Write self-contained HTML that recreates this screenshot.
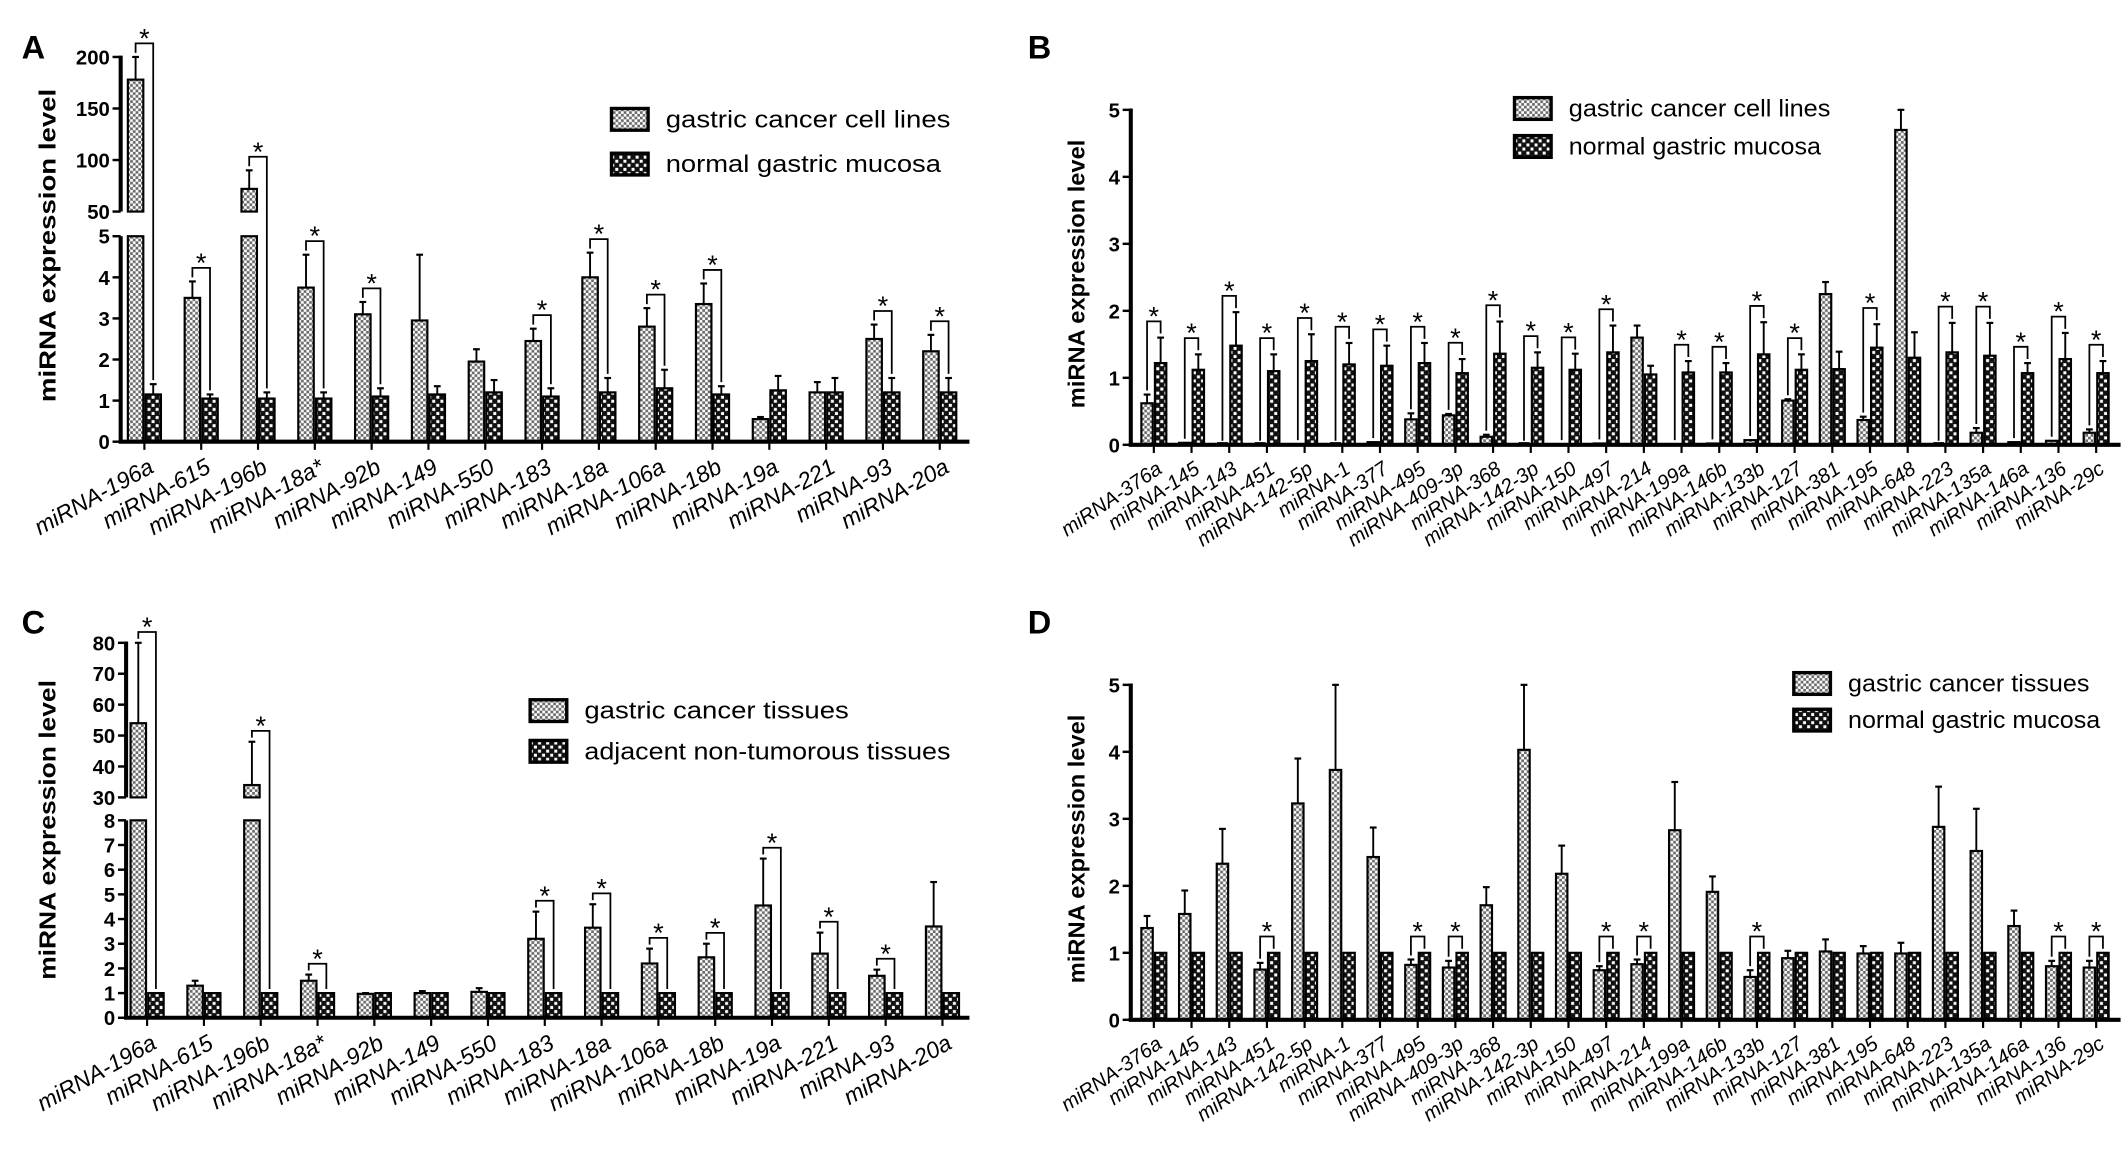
<!DOCTYPE html>
<html><head><meta charset="utf-8"><style>
html,body{margin:0;padding:0;background:#fff;}
svg{display:block;}
text{font-family:"Liberation Sans",Arial,sans-serif;}
</style></head><body>
<svg id="fig" width="2126" height="1150" viewBox="0 0 1568 848" preserveAspectRatio="none" xmlns="http://www.w3.org/2000/svg">
<defs>
<pattern id="pc" patternUnits="userSpaceOnUse" width="4" height="4"><rect width="4" height="4" fill="#6a6a6a"/><rect x="0" y="0" width="2" height="2" fill="#fff"/><rect x="2" y="2" width="2" height="2" fill="#fff"/></pattern>
<pattern id="pn" patternUnits="userSpaceOnUse" width="6" height="6"><rect width="6" height="6" fill="#111"/><rect x="0.8" y="0.8" width="2.2" height="2.2" fill="#fff"/><rect x="3.8" y="3.8" width="2.2" height="2.2" fill="#fff"/></pattern>
</defs>
</svg>
<script>
// ---------- Panel A data ----------
const catsA = ["miRNA-196a","miRNA-615","miRNA-196b","miRNA-18a*","miRNA-92b","miRNA-149","miRNA-550","miRNA-183","miRNA-18a","miRNA-106a","miRNA-18b","miRNA-19a","miRNA-221","miRNA-93","miRNA-20a"];
const cancerA = [178,3.5,72,3.75,3.1,2.95,1.95,2.45,4.0,2.8,3.35,0.55,1.2,2.5,2.2];
const cancerErrA = [200,3.9,90,4.55,3.4,4.55,2.25,2.75,4.6,3.25,3.85,0.6,1.45,2.85,2.6];
const normalA = [1.15,1.05,1.05,1.05,1.1,1.15,1.2,1.1,1.2,1.3,1.15,1.25,1.2,1.2,1.2];
const normalErrA = [1.4,1.15,1.2,1.2,1.3,1.35,1.5,1.3,1.55,1.75,1.35,1.6,1.55,1.55,1.55];
const sigA = [1,1,1,1,1,0,0,1,1,1,1,0,0,1,1];
const ticksLowA = [0,1,2,3,4,5];
const ticksHighA = [50,100,150,200];

// ---------- Panel B data ----------
const catsB = ["miRNA-376a","miRNA-145","miRNA-143","miRNA-451","miRNA-142-5p","miRNA-1","miRNA-377","miRNA-495","miRNA-409-3p","miRNA-368","miRNA-142-3p","miRNA-150","miRNA-497","miRNA-214","miRNA-199a","miRNA-146b","miRNA-133b","miRNA-127","miRNA-381","miRNA-195","miRNA-648","miRNA-223","miRNA-135a","miRNA-146a","miRNA-136","miRNA-29c"];
const cancerB = [0.62,0.03,0,0,0.01,0,0.04,0.38,0.44,0.12,0,0.01,0.02,1.6,0.01,0.02,0.07,0.66,2.25,0.37,4.7,0,0.18,0.04,0.06,0.18];
const cancerErrB = [0.75,0.03,0,0,0.01,0,0.04,0.47,0.46,0.15,0,0.01,0.02,1.78,0.01,0.02,0.07,0.68,2.43,0.42,5.0,0,0.25,0.04,0.06,0.23];
const normalB = [1.22,1.12,1.48,1.1,1.25,1.2,1.18,1.22,1.07,1.36,1.15,1.12,1.38,1.05,1.08,1.08,1.35,1.12,1.13,1.45,1.3,1.38,1.33,1.07,1.28,1.07];
const normalErrB = [1.6,1.35,1.98,1.35,1.65,1.52,1.48,1.52,1.28,1.84,1.38,1.36,1.78,1.18,1.25,1.22,1.83,1.35,1.39,1.8,1.68,1.82,1.82,1.22,1.67,1.25];
const sigB = [1,1,1,1,1,1,1,1,1,1,1,1,1,0,1,1,1,1,0,1,0,1,1,1,1,1];
const ticksB = [0,1,2,3,4,5];

// ---------- Panel C data ----------
const catsC = catsA;
const cancerC = [54,1.3,34,1.5,0.97,1.0,1.05,3.2,3.65,2.2,2.45,4.55,2.6,1.7,3.7];
const cancerErrC = [80,1.5,48,1.75,1.0,1.08,1.2,4.3,4.6,2.8,3.0,6.45,3.45,1.95,5.5];
const normalC = [1,1,1,1,1,1,1,1,1,1,1,1,1,1,1];
const normalErrC = [1,1,1,1,1,1,1,1,1,1,1,1,1,1,1];
const sigC = [1,0,1,1,0,0,0,1,1,1,1,1,1,1,0];
const ticksLowC = [0,1,2,3,4,5,6,7,8];
const ticksHighC = [30,40,50,60,70,80];

// ---------- Panel D data ----------
const catsD = catsB;
const cancerD = [1.37,1.58,2.33,0.75,3.23,3.73,2.43,0.82,0.78,1.71,4.03,2.18,0.74,0.83,2.83,1.91,0.64,0.92,1.02,0.99,0.99,2.88,2.52,1.4,0.8,0.78];
const cancerErrD = [1.55,1.93,2.85,0.85,3.9,5.0,2.87,0.9,0.88,1.98,5.0,2.6,0.8,0.9,3.55,2.14,0.74,1.03,1.2,1.1,1.15,3.48,3.15,1.63,0.88,0.88];
const normalD = [1,1,1,1,1,1,1,1,1,1,1,1,1,1,1,1,1,1,1,1,1,1,1,1,1,1];
const normalErrD = [1,1,1,1,1,1,1,1,1,1,1,1,1,1,1,1,1,1,1,1,1,1,1,1,1,1];
const sigD = [0,0,0,1,0,0,0,1,1,0,0,0,1,1,0,0,1,0,0,0,0,0,0,0,1,1];

const svg = document.getElementById('fig');
const NS = 'http://www.w3.org/2000/svg';
function mk(tag, attrs, parent){
  const e = document.createElementNS(NS, tag);
  for (const k in attrs) e.setAttribute(k, attrs[k]);
  (parent||svg).appendChild(e);
  return e;
}

function drawPanel(p){
  const g = mk('g', {});
  
  
  const y = p.y;
  p.cats.forEach((c, i) => {
    const cx = p.x0 + i * p.step;
    const series = [
      {v: p.cancer[i], e: p.cancerErr[i], fill: 'url(#pc)', x: cx - p.bw, nm: 'cancer-bar'},
      {v: p.normal[i], e: p.normalErr[i], fill: 'url(#pn)', x: cx, nm: 'normal-bar'}
    ];
    series.forEach(s => {
      if (s.v > 0.005) {
        const segs = p.segments(s.v);
        segs.forEach(sg => {
          const r = mk('rect', {x: s.x + 0.8, y: sg[0], width: p.bw - 1.6, height: Math.max(0.5, sg[1] - sg[0]), fill: s.fill, stroke: '#000', 'stroke-width': 1.6}, g);
          
          
        });
      } else {
        mk('line', {x1: s.x + 1, x2: s.x + p.bw - 1, y1: p.zero - 1, y2: p.zero - 1, stroke: '#000', 'stroke-width': 2}, g);
      }
      if (s.e > s.v + 0.001) {
        const xm = s.x + p.bw / 2;
        const eb = mk('line', {x1: xm, x2: xm, y1: y(s.v), y2: y(s.e), stroke: '#000', 'stroke-width': 1.4}, g);
        
        
        mk('line', {x1: xm - 2.5, x2: xm + 2.5, y1: y(s.e), y2: y(s.e), stroke: '#000', 'stroke-width': 1.6}, g);
      }
    });
    if (p.sig[i]) {
      const tc = y(Math.max(p.cancerErr[i], p.cancer[i]));
      const tn = y(Math.max(p.normalErr[i], p.normal[i]));
      const by = Math.min(tc, tn) - p.bgap;
      const lx = cx - p.bw / 2, rx = cx + p.bw / 2;
      const br = mk('path', {d: `M${lx},${tc - 3} L${lx},${by} L${rx},${by} L${rx},${tn - 3}`, fill: 'none', stroke: '#000', 'stroke-width': 1.3}, g);
      
      
      const st = mk('text', {x: cx, y: by + 3, 'text-anchor': 'middle', 'font-size': 20}, g);
      st.textContent = '*';
      
      
    }
    mk('line', {x1: cx, x2: cx, y1: p.zero, y2: p.zero + 6, stroke: '#000', 'stroke-width': 1.6}, g);
    const lx = cx + p.lblDx, ly = p.zero + p.lblDy;
    const t = mk('text', {x: lx, y: ly, 'text-anchor': 'end', 'font-size': p.lblSize, 'font-style': 'italic', transform: `rotate(${-p.angle} ${lx} ${ly})`}, g);
    t.textContent = c;
    
    
  });
  p.axisSegs.forEach(s => {
    const a = mk('line', {x1: p.ax, x2: p.ax, y1: s[0], y2: s[1], stroke: '#000', 'stroke-width': 3}, g);
    
    
  });
  const xa = mk('line', {x1: p.ax - 1.5, x2: p.xEnd, y1: p.zero, y2: p.zero, stroke: '#000', 'stroke-width': 3}, g);
  
  
  p.ticks.forEach(v => {
    const ty = y(v);
    mk('line', {x1: p.ax - 6, x2: p.ax, y1: ty, y2: ty, stroke: '#000', 'stroke-width': 1.8}, g);
    const t = mk('text', {x: p.ax - 8, y: ty + 5.5, 'text-anchor': 'end', 'font-size': 15, 'font-weight': 'bold'}, g);
    t.textContent = v;
    
    
  });
  const tx = p.titleX, ty = p.titleY;
  const yt = mk('text', {x: tx, y: ty, 'text-anchor': 'middle', 'font-size': 17, 'font-weight': 'bold', textLength: p.titleLen, lengthAdjust: 'spacingAndGlyphs', transform: `rotate(-90 ${tx} ${ty})`}, g);
  yt.textContent = 'miRNA expression level';
  
  
  const pl = mk('text', {x: p.letterX, y: p.letterY, 'font-size': 24, 'font-weight': 'bold', 'font-family': '"Liberation Serif",serif'}, g);
  pl.textContent = p.letter;
  
  
  p.legend.forEach((L, k) => {
    const ly0 = p.legY + k * p.legGap;
    const sw = mk('rect', {x: p.legX, y: ly0, width: 27, height: 16, fill: k ? 'url(#pn)' : 'url(#pc)', stroke: '#000', 'stroke-width': 2.5}, g);
    
    
    const lt = mk('text', {x: p.legX + 40, y: ly0 + 14, 'font-size': 18, textLength: L[1], lengthAdjust: 'spacingAndGlyphs'}, g);
    lt.textContent = L[0];
    
    
  });
}

const zA = 325.7, uA = 30.3, brA = 156, ubA = 0.76;
function yA(v){ return v <= 5 ? zA - v * uA : brA - (v - 50) * ubA; }
drawPanel({
  name: 'panel-a', letter: 'A', letterX: 16, letterY: 43,
  cats: catsA, cancer: cancerA, cancerErr: cancerErrA, normal: normalA, normalErr: normalErrA, sig: sigA,
  y: yA, zero: zA, ax: 89, xEnd: 715, x0: 106.5, step: 41.9, bw: 13, bgap: 10,
  segments: v => v > 50 ? [[yA(5), zA], [yA(v), brA]] : [[yA(Math.min(v,5)), zA]],
  axisSegs: [[yA(200) - 1, brA], [yA(5), zA]],
  ticks: ticksLowA.concat(ticksHighA),
  lblDx: 8, lblDy: 22, lblSize: 17, angle: 29,
  titleX: 41, titleY: 181, titleLen: 231,
  legX: 451, legY: 80, legGap: 33, legend: [['gastric cancer cell lines', 210], ['normal gastric mucosa', 203]]
});

const zB = 328, uB = 49.4;
function yB(v){ return zB - v * uB; }
drawPanel({
  name: 'panel-b', letter: 'B', letterX: 758, letterY: 43,
  cats: catsB, cancer: cancerB, cancerErr: cancerErrB, normal: normalB, normalErr: normalErrB, sig: sigB,
  y: yB, zero: zB, ax: 834, xEnd: 1564, x0: 851, step: 27.8, bw: 10, bgap: 12,
  segments: v => [[yB(v), zB]],
  axisSegs: [[yB(5) - 1, zB]],
  ticks: ticksB,
  lblDx: 7, lblDy: 20, lblSize: 15, angle: 34,
  titleX: 800, titleY: 202, titleLen: 198,
  legX: 1117, legY: 72, legGap: 28, legend: [['gastric cancer cell lines', 193], ['normal gastric mucosa', 186]]
});

const zC = 750.5, uC = 18.2, brC = 588, ubC = 2.28;
function yC(v){ return v <= 8 ? zC - v * uC : brC - (v - 30) * ubC; }
drawPanel({
  name: 'panel-c', letter: 'C', letterX: 16, letterY: 467,
  cats: catsC, cancer: cancerC, cancerErr: cancerErrC, normal: normalC, normalErr: normalErrC, sig: sigC,
  y: yC, zero: zC, ax: 93, xEnd: 715, x0: 108.5, step: 41.9, bw: 13, bgap: 8,
  segments: v => v > 30 ? [[yC(8), zC], [yC(v), brC]] : [[yC(Math.min(v,8)), zC]],
  axisSegs: [[yC(80) - 1, brC], [yC(8), zC]],
  ticks: ticksLowC.concat(ticksHighC),
  lblDx: 8, lblDy: 22, lblSize: 17, angle: 29,
  titleX: 41, titleY: 612, titleLen: 221,
  legX: 391, legY: 516, legGap: 30, legend: [['gastric cancer tissues', 195], ['adjacent non-tumorous tissues', 270]]
});

const zD = 752, uD = 49.4;
function yD(v){ return zD - v * uD; }
drawPanel({
  name: 'panel-d', letter: 'D', letterX: 758, letterY: 467,
  cats: catsD, cancer: cancerD, cancerErr: cancerErrD, normal: normalD, normalErr: normalErrD, sig: sigD,
  y: yD, zero: zD, ax: 834, xEnd: 1564, x0: 851, step: 27.8, bw: 10, bgap: 12,
  segments: v => [[yD(v), zD]],
  axisSegs: [[yD(5) - 1, zD]],
  ticks: ticksB,
  lblDx: 7, lblDy: 20, lblSize: 15, angle: 34,
  titleX: 800, titleY: 626, titleLen: 198,
  legX: 1323, legY: 496, legGap: 27, legend: [['gastric cancer tissues', 178], ['normal gastric mucosa', 186]]
});
</script>
</body></html>
